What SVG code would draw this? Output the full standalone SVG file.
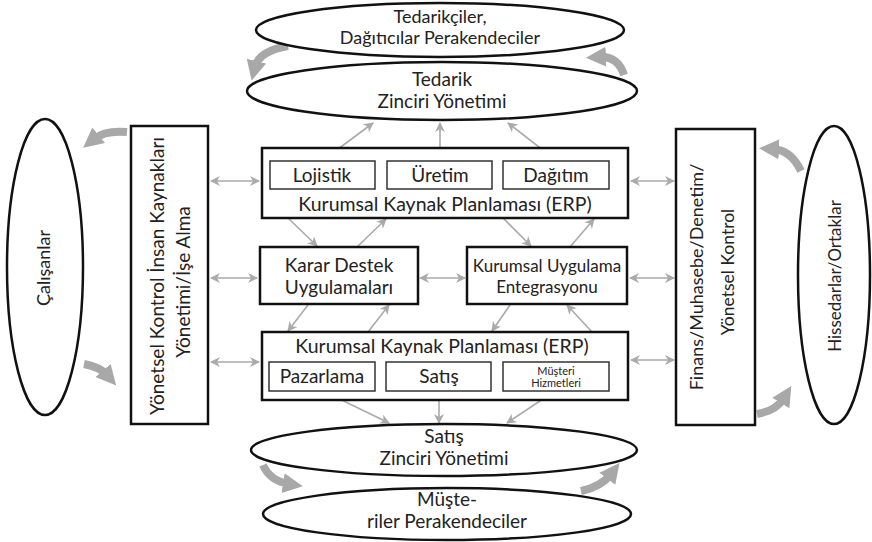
<svg xmlns="http://www.w3.org/2000/svg" width="872" height="542" viewBox="0 0 872 542">
<defs>
<style>
.el{fill:#fff;stroke:#111;stroke-width:2.5}
.bx{fill:#fff;stroke:#111;stroke-width:2.5}
.sb{fill:#fff;stroke:#333;stroke-width:1.5}
.t{font-family:Lato,"Open Sans","DejaVu Sans",sans-serif;fill:#222;text-anchor:middle}
.thin{fill:none;stroke:#aaa;stroke-width:1.6}
.big{fill:none;stroke:#a8a8a8;stroke-width:8}
</style>
<marker id="ah" viewBox="0 0 10 10" refX="9" refY="5" markerWidth="11" markerHeight="10" markerUnits="userSpaceOnUse" orient="auto-start-reverse">
<path d="M0,0 L10,5 L0,10 L3,5 Z" fill="#aaa"/>
</marker>
<marker id="bh" viewBox="0 0 10 10" refX="3" refY="5" markerWidth="20" markerHeight="22" markerUnits="userSpaceOnUse" orient="auto">
<path d="M0,0 L10,5 L0,10 Z" fill="#a8a8a8"/>
</marker>
</defs>

<g id="connectors">
<path class="big" d="M288 46 Q259 51 255 67" marker-end="url(#bh)"/>
<path class="big" d="M624 75 Q618 56 600 57" marker-end="url(#bh)"/>
<path class="big" d="M263 465 Q270 481 289 484" marker-end="url(#bh)"/>
<path class="big" d="M581 491 Q601 487 611 474" marker-end="url(#bh)"/>
<path class="big" d="M127 132 Q105 130 94 139" marker-end="url(#bh)"/>
<path class="big" d="M84 364 Q100 367 107 375" marker-end="url(#bh)"/>
<path class="big" d="M801 171 Q791 150 773 149" marker-end="url(#bh)"/>
<path class="big" d="M757 414 Q776 411 784 398" marker-end="url(#bh)"/>
<path class="thin" d="M322 161 L373 123" marker-end="url(#ah)"/>
<path class="thin" d="M440 161 L440 123" marker-end="url(#ah)"/>
<path class="thin" d="M557 161 L508 123" marker-end="url(#ah)"/>
<path class="thin" d="M288 218 L317 246" marker-end="url(#ah)"/>
<path class="thin" d="M357 247 L386 219" marker-end="url(#ah)"/>
<path class="thin" d="M503 218 L531 246" marker-end="url(#ah)"/>
<path class="thin" d="M570 247 L594 219" marker-end="url(#ah)"/>
<path class="thin" d="M308 305 L288 331" marker-end="url(#ah)"/>
<path class="thin" d="M368 332 L389 305" marker-end="url(#ah)"/>
<path class="thin" d="M510 305 L492 331" marker-end="url(#ah)"/>
<path class="thin" d="M592 332 L567 305" marker-end="url(#ah)"/>
<path class="thin" d="M323 391 L389 423" marker-end="url(#ah)"/>
<path class="thin" d="M439 391 L439 423" marker-end="url(#ah)"/>
<path class="thin" d="M555 391 L507 423" marker-end="url(#ah)"/>
<path class="thin" d="M211 181 L259 181" marker-start="url(#ah)" marker-end="url(#ah)"/>
<path class="thin" d="M211 278 L257 278" marker-start="url(#ah)" marker-end="url(#ah)"/>
<path class="thin" d="M211 362 L259 362" marker-start="url(#ah)" marker-end="url(#ah)"/>
<path class="thin" d="M420 278 L465 278" marker-start="url(#ah)" marker-end="url(#ah)"/>
<path class="thin" d="M631 181 L674 181" marker-start="url(#ah)" marker-end="url(#ah)"/>
<path class="thin" d="M630 278 L674 278" marker-start="url(#ah)" marker-end="url(#ah)"/>
<path class="thin" d="M631 360 L674 360" marker-start="url(#ah)" marker-end="url(#ah)"/>
</g>

<g id="tedarikciler">
<ellipse class="el" cx="440" cy="30" rx="184" ry="27"/>
<text class="t" x="440" y="23" font-size="18">Tedarikçiler,</text>
<text class="t" x="440" y="44" font-size="18">Dağıtıcılar Perakendeciler</text>
</g>
<g id="tedarik-zinciri">
<ellipse class="el" cx="442" cy="91" rx="195" ry="29"/>
<text class="t" x="442" y="86" font-size="19">Tedarik</text>
<text class="t" x="442" y="108" font-size="19">Zinciri Yönetimi</text>
</g>
<g id="satis-zinciri">
<ellipse class="el" cx="444" cy="450" rx="193" ry="26"/>
<text class="t" x="444" y="443" font-size="19">Satış</text>
<text class="t" x="444" y="465" font-size="19">Zinciri Yönetimi</text>
</g>
<g id="musteriler">
<ellipse class="el" cx="447" cy="514" rx="184" ry="26"/>
<text class="t" x="447" y="506" font-size="19">Müşte-</text>
<text class="t" x="447" y="528" font-size="19">riler Perakendeciler</text>
</g>
<g id="calisanlar">
<ellipse class="el" cx="45" cy="267" rx="38" ry="148"/>
<text class="t" transform="translate(50 268) rotate(-90)" font-size="18">Çalışanlar</text>
</g>
<g id="hissedarlar">
<ellipse class="el" cx="834" cy="275" rx="36" ry="149"/>
<text class="t" transform="translate(841 276) rotate(-90)" font-size="17">Hissedarlar/Ortaklar</text>
</g>
<g id="yonetsel-ik">
<rect class="bx" x="131" y="126" width="77" height="298"/>
<text class="t" transform="translate(164 276) rotate(-90)" font-size="19">Yönetsel Kontrol İnsan Kaynakları</text>
<text class="t" transform="translate(190 282) rotate(-90)" font-size="19">Yönetimi/İşe Alma</text>
</g>
<g id="finans">
<rect class="bx" x="676" y="129" width="79" height="296"/>
<text class="t" transform="translate(703 277) rotate(-90)" font-size="18">Finans/Muhasebe/Denetim/</text>
<text class="t" transform="translate(734 272) rotate(-90)" font-size="17.5">Yönetsel Kontrol</text>
</g>
<g id="erp-top">
<rect class="bx" x="262" y="148" width="366" height="70"/>
<rect class="sb" x="270" y="161" width="105" height="28"/>
<rect class="sb" x="387" y="161" width="105" height="28"/>
<rect class="sb" x="503" y="161" width="106" height="28"/>
<text class="t" x="322" y="182" font-size="19">Lojistik</text>
<text class="t" x="440" y="182" font-size="19">Üretim</text>
<text class="t" x="556" y="182" font-size="19">Dağıtım</text>
<text class="t" x="445" y="211" font-size="19.5">Kurumsal Kaynak Planlaması (ERP)</text>
</g>
<g id="karar-destek">
<rect class="bx" x="260" y="247" width="158" height="57"/>
<text class="t" x="339" y="272" font-size="19">Karar Destek</text>
<text class="t" x="339" y="294" font-size="19">Uygulamaları</text>
</g>
<g id="kurumsal-uygulama">
<rect class="bx" x="467" y="247" width="160" height="57"/>
<text class="t" x="547" y="272" font-size="17">Kurumsal Uygulama</text>
<text class="t" x="547" y="293" font-size="17">Entegrasyonu</text>
</g>
<g id="erp-bottom">
<rect class="bx" x="262" y="332" width="366" height="68"/>
<text class="t" x="442" y="353" font-size="19.5">Kurumsal Kaynak Planlaması (ERP)</text>
<rect class="sb" x="269" y="362" width="106" height="29"/>
<rect class="sb" x="386" y="362" width="105" height="29"/>
<rect class="sb" x="503" y="362" width="106" height="29"/>
<text class="t" x="322" y="383" font-size="19">Pazarlama</text>
<text class="t" x="439" y="383" font-size="19">Satış</text>
<text class="t" x="556" y="375" font-size="11">Müşteri</text>
<text class="t" x="556" y="387" font-size="11">Hizmetleri</text>
</g>
</svg>
